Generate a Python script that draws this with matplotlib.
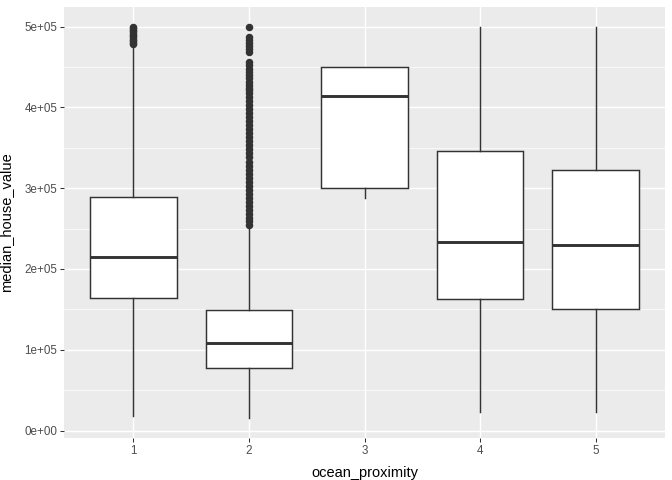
import matplotlib
matplotlib.use("Agg")
import matplotlib.pyplot as plt
from matplotlib.ticker import FixedLocator

plt.rcParams["font.family"] = ["Liberation Sans", "DejaVu Sans"]

categories = [1, 2, 3, 4, 5]
whislo = [18000, 14999, 287500, 22500, 22500]
q1 = [164500, 77600, 300000, 162600, 150200]
med = [215000, 108900, 414700, 233900, 229800]
q3 = [289600, 149000, 450000, 345800, 323000]
whishi = [473000, 250000, 450000, 500001, 500001]
outliers_1 = [478000, 480000, 482000, 484000, 486000, 488000, 490000,
              492000, 494000, 496000, 498000, 500001]
outliers_2 = [255000, 259000, 263000, 268000, 273000, 278000, 283000, 288000,
              293000, 298000, 303000, 308000, 313000, 318000, 323000, 328000,
              333000, 338000, 343000, 348000, 353000, 358000, 363000, 368000,
              373000, 378000, 383000, 388000, 393000, 398000, 403000, 408000,
              413000, 418000, 422000, 424000, 428000, 432000, 436000, 440000,
              444000, 448000, 452000, 456500, 469000, 472500, 476000, 480000,
              484000, 487500, 500001]
outliers = [outliers_1, outliers_2, [], [], []]
y_ticks = [0, 100000, 200000, 300000, 400000, 500000]
y_labels = ["0e+00", "1e+05", "2e+05", "3e+05", "4e+05", "5e+05"]

stats = []
for i in range(len(categories)):
    stats.append(dict(whislo=whislo[i], q1=q1[i], med=med[i], q3=q3[i],
                      whishi=whishi[i], fliers=outliers[i]))

fig = plt.figure(figsize=(6.72, 4.8), dpi=100)
ax = fig.add_axes([64/672, 42/480, (665-64)/672, (438-7)/480])
ax.set_facecolor("#EBEBEB")
for s in ax.spines.values():
    s.set_visible(False)

dark = "#333333"
lw = 1.05
ax.bxp(stats, positions=categories, widths=0.75, patch_artist=True,
       showcaps=False,
       boxprops=dict(facecolor="white", edgecolor=dark, linewidth=lw),
       whiskerprops=dict(color=dark, linewidth=lw),
       medianprops=dict(color=dark, linewidth=2.1, solid_capstyle="butt"),
       flierprops=dict(marker="o", markerfacecolor=dark, markeredgecolor=dark,
                       markersize=4.4, linestyle="none"),
       zorder=3)

ax.set_xlim(0.4, 5.6)
ax.set_ylim(-9251, 524251)
ax.set_xticks(categories)
ax.set_xticklabels([str(c) for c in categories])
ax.yaxis.set_major_locator(FixedLocator(y_ticks))
ax.set_yticklabels(y_labels)
ax.yaxis.set_minor_locator(FixedLocator([50000, 150000, 250000, 350000, 450000]))

ax.grid(which="major", color="white", linewidth=1.05, zorder=0)
ax.grid(which="minor", axis="y", color="white", linewidth=0.5, zorder=0)
ax.set_axisbelow(True)

ax.tick_params(axis="both", which="major", length=2.7, width=0.75, color=dark,
               labelsize=8.4, labelcolor="#4D4D4D", pad=2)
ax.tick_params(axis="y", which="minor", length=0)

ax.set_xlabel("ocean_proximity", fontsize=10.5, color="black")
ax.set_ylabel("median_house_value", fontsize=10.5, color="black")
ax.yaxis.set_label_coords((13 - 64) / 601, 0.5)
ax.xaxis.set_label_coords(0.5, (438 - 466) / 431)

fig.savefig("out.png", dpi=100, facecolor="white")
